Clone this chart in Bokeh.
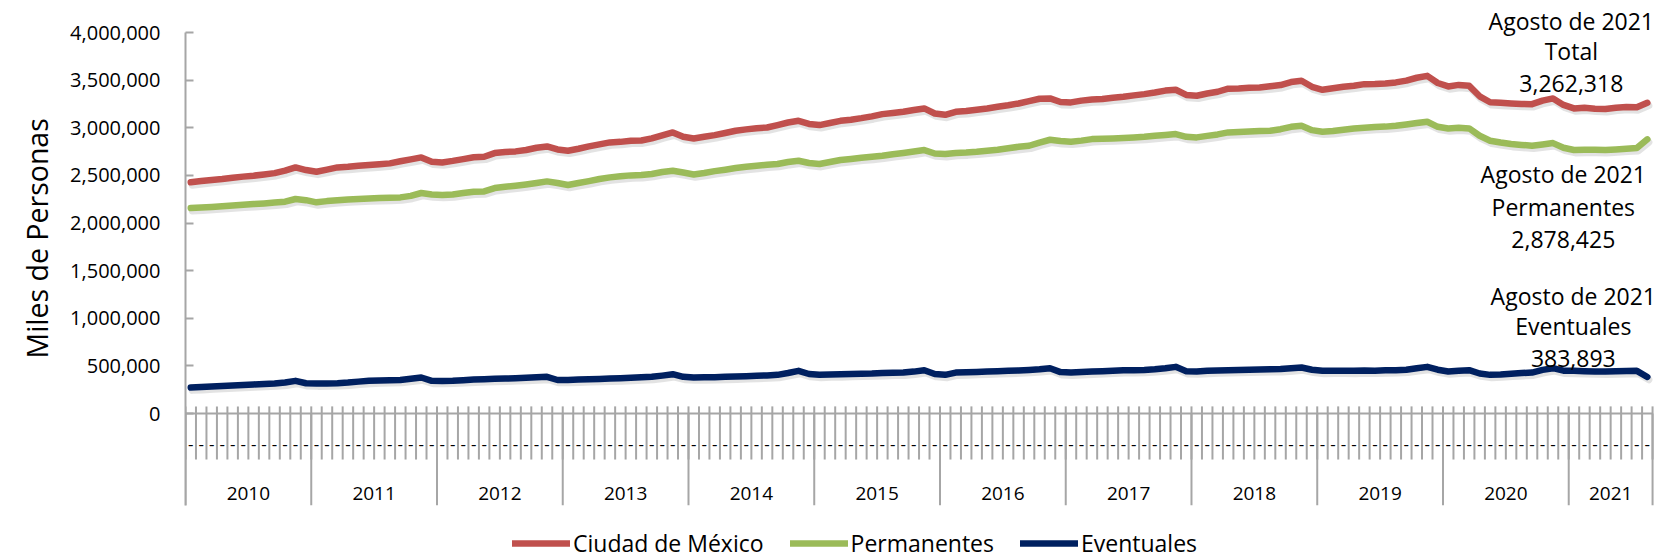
from bokeh.plotting import figure
from bokeh.models import (ColumnDataSource, FixedTicker, NumeralTickFormatter, Range1d,
                          Legend, LegendItem, Label, Title)
from bokeh.embed import file_html
from bokeh.resources import INLINE
from bokeh.core.properties import value
from bokeh.transform import dodge

# ---------------- data ----------------
anios = ["2010", "2011", "2012", "2013", "2014", "2015", "2016", "2017", "2018", "2019", "2020", "2021"]
meses_por_anio = [12, 12, 12, 12, 12, 12, 12, 12, 12, 12, 12, 8]
etiqueta_mes = "-"
y_ticks = [0, 500000, 1000000, 1500000, 2000000, 2500000, 3000000, 3500000, 4000000]

total = [
    2427000, 2440000, 2452000, 2462000, 2475000, 2487000, 2497000, 2510000, 2524000, 2550000, 2584000, 2556000,
    2538000, 2560000, 2584000, 2590000, 2600000, 2608000, 2616000, 2626000, 2648000, 2668000, 2689000, 2643000,
    2636000, 2652000, 2671000, 2690000, 2696000, 2734000, 2745000, 2752000, 2766000, 2790000, 2804000, 2772000,
    2759000, 2780000, 2804000, 2825000, 2846000, 2852000, 2864000, 2866000, 2888000, 2920000, 2951000, 2905000,
    2888000, 2905000, 2923000, 2945000, 2969000, 2983000, 2995000, 3003000, 3028000, 3055000, 3073000, 3040000,
    3028000, 3050000, 3073000, 3085000, 3101000, 3120000, 3143000, 3155000, 3168000, 3186000, 3203000, 3150000,
    3136000, 3168000, 3175000, 3190000, 3203000, 3220000, 3236000, 3255000, 3280000, 3305000, 3308000, 3270000,
    3266000, 3285000, 3297000, 3301000, 3315000, 3325000, 3340000, 3353000, 3370000, 3390000, 3399000, 3345000,
    3336000, 3360000, 3378000, 3410000, 3413000, 3420000, 3423000, 3435000, 3448000, 3480000, 3493000, 3430000,
    3399000, 3415000, 3430000, 3441000, 3458000, 3460000, 3465000, 3476000, 3495000, 3525000, 3545000, 3470000,
    3434000, 3450000, 3440000, 3330000, 3268000, 3262000, 3255000, 3250000, 3248000, 3285000, 3308000, 3240000,
    3203000, 3210000, 3200000, 3196000, 3210000, 3218000, 3215000, 3262318,
]
permanentes = [
    2157000, 2162000, 2168000, 2176000, 2185000, 2192000, 2199000, 2206000, 2215000, 2224000, 2252000, 2240000,
    2217000, 2230000, 2240000, 2248000, 2252000, 2258000, 2262000, 2265000, 2269000, 2285000, 2315000, 2300000,
    2294000, 2300000, 2315000, 2329000, 2332000, 2367000, 2380000, 2392000, 2405000, 2420000, 2437000, 2420000,
    2399000, 2420000, 2440000, 2462000, 2479000, 2490000, 2500000, 2503000, 2515000, 2535000, 2549000, 2530000,
    2510000, 2525000, 2545000, 2560000, 2577000, 2590000, 2600000, 2612000, 2620000, 2640000, 2654000, 2630000,
    2619000, 2640000, 2661000, 2672000, 2685000, 2695000, 2706000, 2722000, 2735000, 2750000, 2766000, 2730000,
    2724000, 2735000, 2740000, 2748000, 2759000, 2770000, 2785000, 2800000, 2811000, 2845000, 2874000, 2860000,
    2853000, 2865000, 2881000, 2885000, 2888000, 2893000, 2899000, 2905000, 2915000, 2925000, 2934000, 2905000,
    2899000, 2915000, 2930000, 2951000, 2955000, 2960000, 2965000, 2969000, 2985000, 3010000, 3021000, 2975000,
    2958000, 2965000, 2980000, 2993000, 3000000, 3008000, 3012000, 3021000, 3035000, 3050000, 3063000, 3010000,
    2993000, 3000000, 2993000, 2916000, 2864000, 2845000, 2829000, 2820000, 2811000, 2825000, 2839000, 2790000,
    2766000, 2768000, 2768000, 2766000, 2772000, 2780000, 2787000, 2878425,
]
eventuales = [
    273000, 278000, 284000, 290000, 295000, 300000, 305000, 310000, 315000, 325000, 343000, 318000,
    315000, 316000, 318000, 325000, 335000, 343000, 347000, 350000, 353000, 365000, 378000, 343000,
    342000, 344000, 350000, 356000, 360000, 364000, 367000, 371000, 375000, 380000, 385000, 352000,
    353000, 356000, 360000, 363000, 367000, 370000, 375000, 380000, 385000, 398000, 413000, 385000,
    378000, 380000, 382000, 385000, 388000, 392000, 396000, 400000, 406000, 425000, 448000, 415000,
    406000, 410000, 412000, 415000, 418000, 420000, 425000, 428000, 430000, 440000, 455000, 415000,
    406000, 430000, 432000, 436000, 440000, 444000, 448000, 452000, 458000, 465000, 476000, 435000,
    430000, 435000, 440000, 445000, 450000, 455000, 455000, 458000, 465000, 475000, 490000, 445000,
    441000, 448000, 452000, 455000, 458000, 460000, 462000, 465000, 467000, 475000, 483000, 460000,
    448000, 450000, 450000, 448000, 452000, 450000, 453000, 455000, 460000, 475000, 490000, 460000,
    441000, 450000, 455000, 420000, 406000, 410000, 418000, 425000, 430000, 458000, 476000, 450000,
    448000, 445000, 442000, 440000, 443000, 446000, 448000, 383893,
]
nombres = ["Ciudad de México", "Permanentes", "Eventuales"]
titulo_y = "Miles de Personas"
fecha_corte = "Agosto de 2021"
etiquetas_fin = ["Total", "Permanentes", "Eventuales"]

# ---------------- styling / layout ----------------
FONT = "Open Sans"
C_TOTAL, C_PERM, C_EVENT = "#C0504D", "#9BBB59", "#002060"
AXIS_GRAY = "#A6A6A6"
W, H = 1666, 558
LEFT = 185
Y_TOP, Y_BOTTOM = 4336000, -1522000
X_END = 140.83
AXIS_BOTTOM = -963000      # bottom of year separators
TICK_TOP, TICK_BOTTOM = 75000, -483000
DASH_Y, YEAR_Y = -325000, -838000

n = len(total)
xs = list(range(n))
src = ColumnDataSource(dict(x=xs, total=total, perm=permanentes, event=eventuales))

p = figure(width=W, height=H, output_backend="svg", toolbar_location=None,
           x_range=Range1d(-0.5, X_END), y_range=Range1d(Y_BOTTOM, Y_TOP),
           x_axis_location=None, min_border_left=LEFT, min_border_right=0,
           min_border_top=0, min_border_bottom=0)
p.outline_line_color = None
p.xgrid.visible = False
p.ygrid.visible = False
p.background_fill_color = "white"

# y axis
ya = p.yaxis[0]
ya.ticker = FixedTicker(ticks=y_ticks)
ya.formatter = NumeralTickFormatter(format="0,0")
ya.bounds = (AXIS_BOTTOM, y_ticks[-1])
ya.axis_line_color = AXIS_GRAY
ya.axis_line_width = 2
ya.major_tick_line_color = AXIS_GRAY
ya.major_tick_line_width = 2
ya.major_tick_in = 8
ya.major_tick_out = 0
ya.minor_tick_line_color = None
ya.major_label_text_font = FONT
ya.major_label_text_font_size = "20px"
ya.major_label_text_color = "black"
ya.major_label_standoff = 25

# y axis title as a side title (placed to match the reference's vertical position)
p.add_layout(Title(text=titulo_y, align="left", offset=200, vertical_align="middle",
                   text_font=FONT, text_font_size="28.5px", text_font_style="normal",
                   text_color="black", standoff=22), "left")

# category axis drawn from the month / year structure
bounds_x = [k - 0.5 for k in range(n + 1)]
p.segment(x0=bounds_x, y0=[TICK_TOP] * len(bounds_x), x1=bounds_x, y1=[TICK_BOTTOM] * len(bounds_x),
          line_color=AXIS_GRAY, line_width=2)
p.segment(x0=[-0.5], y0=[0], x1=[n - 0.5], y1=[0], line_color=AXIS_GRAY, line_width=2)
year_starts = []
acc = 0
for m in meses_por_anio:
    year_starts.append(acc)
    acc += m
sep_x = [s - 0.5 for s in year_starts] + [acc - 0.5]
p.segment(x0=sep_x, y0=[0] * len(sep_x), x1=sep_x, y1=[AXIS_BOTTOM] * len(sep_x),
          line_color=AXIS_GRAY, line_width=2)
p.text(x=xs, y=[DASH_Y] * n, text=[etiqueta_mes] * n, text_font=value(FONT), text_font_size="17px",
       text_align="center", text_baseline="middle", text_color="black")
year_cx = [s + m / 2 - 0.5 for s, m in zip(year_starts, meses_por_anio)]
p.text(x=year_cx, y=[YEAR_Y] * len(anios), text=anios, text_font=value(FONT), text_font_size="19px",
       text_align="center", text_baseline="middle", text_color="black")

# shadows + lines
renderers = []
for col in ("total", "perm", "event"):
    p.line(x=dodge("x", 0.15), y=dodge(col, -30000), source=src, line_color="#7f7f7f",
           line_alpha=0.22, line_width=7, line_join="round", line_cap="round")
for col, color in (("total", C_TOTAL), ("perm", C_PERM), ("event", C_EVENT)):
    r = p.line(x="x", y=col, source=src, line_color=color, line_width=6.5,
               line_join="round", line_cap="round")
    renderers.append(r)

legend = Legend(items=[LegendItem(label=nm, renderers=[r]) for nm, r in zip(nombres, renderers)],
                orientation="horizontal", location=(327, -1))
legend.label_text_font = FONT
legend.label_text_font_size = "23px"
legend.label_text_color = "black"
legend.glyph_width = 58
legend.glyph_height = 22
legend.label_standoff = 3
legend.spacing = 26
legend.padding = 0
legend.margin = 0
legend.border_line_color = None
legend.background_fill_alpha = 0
p.add_layout(legend)

# end-of-series annotations
last = n - 1
blocks = [
    (total[-1], etiquetas_fin[0], -76, [82, 52, 19]),
    (permanentes[-1], etiquetas_fin[1], -84, [-35, -68, -100]),
    (eventuales[-1], etiquetas_fin[2], -74, [81, 51, 18]),
]
for val, name, dx, dys in blocks:
    for txt, dy in zip([fecha_corte, name, f"{val:,}"], dys):
        p.add_layout(Label(x=last, y=val, x_offset=dx, y_offset=dy, text=txt,
                           text_font=FONT, text_font_size="23px", text_color="black",
                           text_align="center", text_baseline="middle"))

open("out.html", "w").write(file_html(p, INLINE))
